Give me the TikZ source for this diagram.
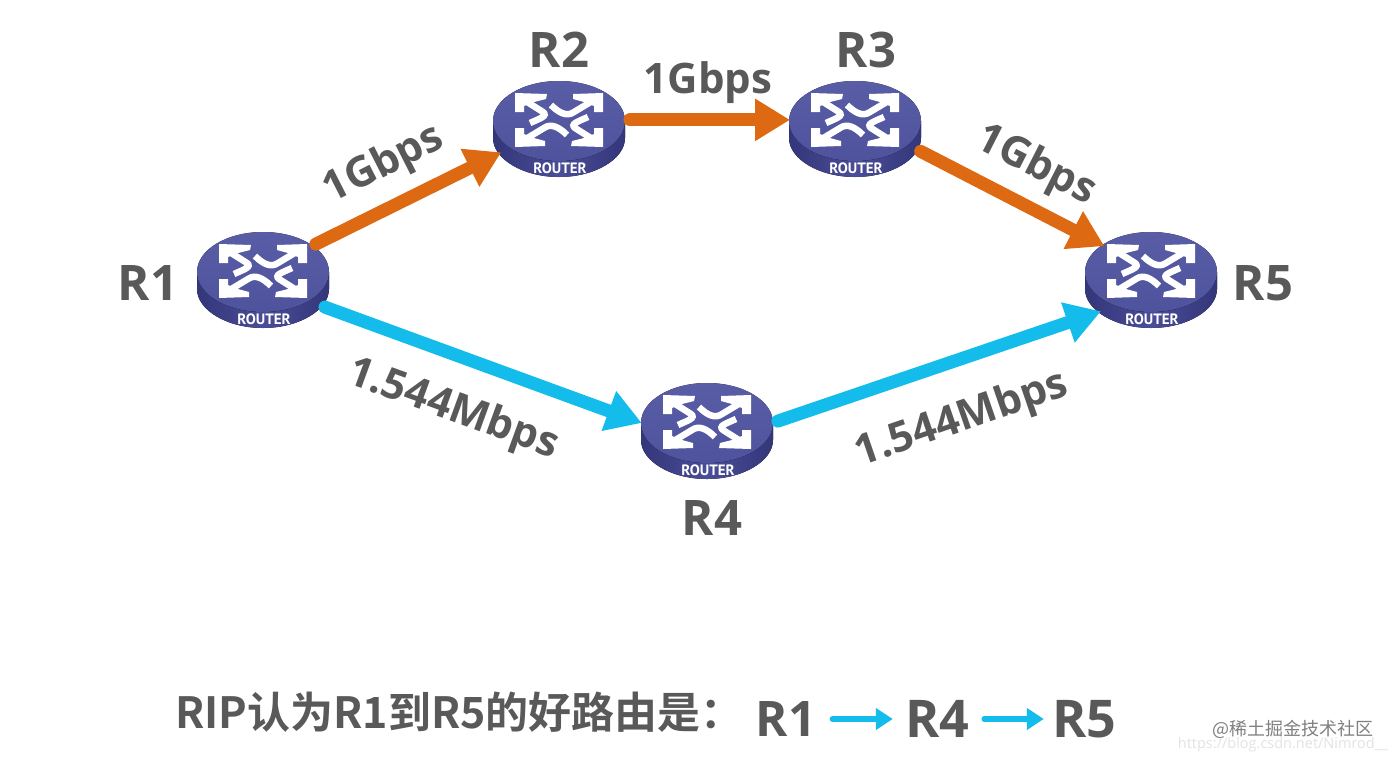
\documentclass[tikz,border=0pt]{standalone}
\usepackage{fontspec}
\setmainfont{Open Sans}
\newfontfamily\cjk{Noto Sans CJK SC}[BoldFont={Noto Sans CJK SC Bold}]
\newfontfamily\tagfont{PT Sans}
\usetikzlibrary{shapes.geometric,arrows.meta}
\definecolor{txtgray}{HTML}{595959}
\definecolor{linkorange}{HTML}{DD6A12}
\definecolor{linkblue}{HTML}{14BCEB}
\definecolor{rlo}{HTML}{34367A}
\definecolor{rmid}{HTML}{4A4D97}
\definecolor{rtp}{HTML}{595DA6}
\definecolor{rbt}{HTML}{4F529C}
\tikzset{
  x=1pt,y=-1pt,
  routerbox/.style={ellipse,minimum width=132pt,minimum height=95pt,inner sep=0pt},
  routertag/.style={text=white,font=\tagfont\fontsize{15}{15}\selectfont\bfseries,inner sep=0pt},
  rname/.style={text=txtgray,font=\fontsize{49}{49}\selectfont\bfseries,inner sep=0pt},
  rnamebig/.style={text=txtgray,font=\fontsize{52}{52}\selectfont\bfseries,inner sep=0pt},
  speed/.style={text=txtgray,font=\fontsize{42}{42}\selectfont\bfseries,inner sep=0pt},
  caption/.style={text=txtgray,font=\cjk\fontsize{43}{43}\selectfont\bfseries,inner sep=0pt},
  orangelink/.style={draw=linkorange,line width=13pt,line cap=round,shorten <=6pt,-{Triangle[length=35pt,width=40pt]}},
  bluelink/.style={draw=linkblue,line width=13pt,line cap=round,shorten <=6pt,-{Triangle[length=35pt,width=40pt]}},
  smalllink/.style={draw=linkblue,line width=5.5pt,line cap=round,-{Triangle[length=17pt,width=21pt]}},
  iconline/.style={draw=white,line width=6.5pt,line cap=butt},
}
\newcommand{\iconarrows}{%
  % arrow towards the upper left
  \fill[white] (-44,-27) -- (-12,-26) -- (-13,-21) -- (-25,-18) -- (-35,-14) -- (-35,-8) -- (-44,-8) -- cycle;
  \draw[iconline] (-35,-20) -- (-16,-8) .. controls (-11,-4) and (-18,-2) .. (-29,3);
  % arrow towards the upper right
  \fill[white] (44,-27) -- (14,-26) -- (14,-21) -- (25,-18) -- (35,-14) -- (35,-8) -- (44,-8) -- cycle;
  \draw[iconline] (35,-20) -- (15,-8) .. controls (8,-3) and (0,-7) .. (-8,-15);
}
\newcommand{\routernode}[3]{%
  \node[routerbox] (#1) at (#2,#3) {};
  \begin{scope}[shift={(#2,#3)}]
    \fill[left color=rlo,right color=rlo,middle color=rmid] (-66,-8) -- (66,-8) -- (66,9)
      .. controls (66,30) and (36,48) .. (0,48) .. controls (-36,48) and (-66,30) .. (-66,9) -- cycle;
    \fill[top color=rtp,bottom color=rbt] (0,-8) ellipse [x radius=66pt,y radius=40pt];
    \begin{scope}[shift={(0,-9)}]
      \iconarrows
      \begin{scope}[rotate=180]\iconarrows\end{scope}
    \end{scope}
  \end{scope}
  \node[routertag] (#1tag) at (#2+1,#3+39) {ROUTER};
}
\begin{document}
\begin{tikzpicture}
\useasboundingbox (0,0) rectangle (1395,761);
\fill[white] (0,0) rectangle (1395,761);

\routernode{r1}{263}{280}
\routernode{r2}{559}{129}
\routernode{r3}{855}{129}
\routernode{r4}{707}{431}
\routernode{r5}{1151}{280}

\draw[orangelink] (r1.35) -- (r2.202);
\draw[orangelink] (r2.8) -- (r3.172);
\draw[orangelink] (r3.-18) -- (r5.144);
\draw[bluelink] (r1.-24) -- (r4.173);
\draw[bluelink] (r4.7) -- (r5.212);

\node[rname] (n1) at (148,283) {R1};
\node[rname] (n2) at (559,50) {R2};
\node[rname] (n3) at (866,50) {R3};
\node[rname] (n4) at (712,518) {R4};
\node[rname] (n5) at (1263,283) {R5};

\node[speed,rotate=27] (s12) at (384,165) {1Gbps};
\node[speed] (s23) at (708,83) {1Gbps};
\node[speed,rotate=-27] (s35) at (1036,166) {1Gbps};
\node[speed,rotate=-20] (s14) at (453,410) {1.544Mbps};
\node[speed,rotate=19] (s45) at (962,420) {1.544Mbps};

\node[caption,anchor=west] (cap) at (175,712) {RIP认为R1到R5的好路由是：};
\node[rname] (c1) at (786,719) {R1};
\node[rnamebig] (c4) at (937,719) {R4};
\node[rnamebig] (c5) at (1084,719) {R5};
\draw[smalllink,shorten <=16pt,shorten >=12pt] (c1.east) -- (c4.west);
\draw[smalllink,shorten <=15pt,shorten >=8pt] (c4.east) -- (c5.west);

\node[text=black!50,font=\cjk\fontsize{18}{18}\selectfont,inner sep=0pt,anchor=east] (wm1) at (1374,729) {@稀土掘金技术社区};
\node[text=black!11,font=\fontsize{14.5}{14.5}\selectfont,inner sep=0pt,anchor=east] (wm2) at (1388,745) {https://blog.csdn.net/Nimrod\_\_};
\end{tikzpicture}
\end{document}
